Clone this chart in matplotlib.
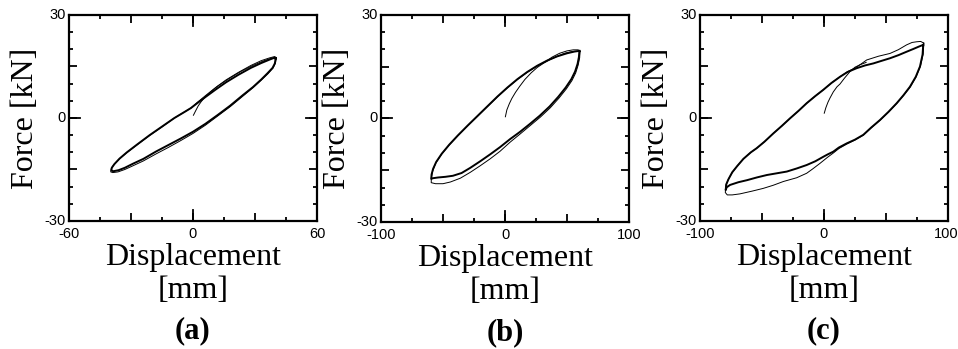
import matplotlib
matplotlib.use('Agg')
import matplotlib.pyplot as plt
from matplotlib.ticker import MultipleLocator

# ---- (a) 40 mm amplitude ----
a_init_x = [0.2, 1.2, 2.5, 4.0, 6.0, 8.5, 12, 17, 23, 29, 34, 38, 40]
a_init_y = [0.8, 2.0, 3.5, 4.8, 6.2, 7.6, 9.3, 11.3, 13.5, 15.3, 16.6, 17.4, 17.6]

# cycle 1: unloading branch (peak -> negative peak) then reloading branch
a_c1_down_x = [40.0, 39.6, 38.5, 36, 33, 29, 24, 18, 12, 6, 0, -6, -12, -18, -24, -29, -33, -36, -38.5, -39.5]
a_c1_down_y = [17.3, 15.9, 14.6, 13.0, 11.2, 9.0, 6.6, 3.6, 0.9, -1.7, -4.0, -6.0, -7.9, -9.8, -11.9, -13.3, -14.5, -15.2, -15.5, -15.3]
a_c1_up_x = [-39.5, -39.3, -38, -35.5, -32, -27, -21, -15, -9, -4, -1, 2, 6, 11, 16, 22, 28, 33, 37, 39.2, 40.0]
a_c1_up_y = [-15.3, -14.5, -13.4, -11.8, -10.0, -7.7, -5.0, -2.5, 0.0, 1.8, 2.9, 4.3, 6.1, 8.3, 10.4, 12.6, 14.6, 16.0, 17.0, 17.5, 17.3]

# cycle 2
a_c2_down_x = [40.3, 39.9, 38.8, 36.3, 33, 29, 24, 18, 12, 6, 0, -6, -12, -18, -24, -29, -33, -36.3, -38.8, -39.8]
a_c2_down_y = [17.6, 16.0, 14.6, 12.9, 11.0, 8.8, 6.3, 3.3, 0.6, -2.1, -4.5, -6.6, -8.6, -10.5, -12.5, -13.9, -15.0, -15.7, -15.9, -15.7]
a_c2_up_x = [-39.8, -39.6, -38.3, -35.8, -32, -27, -21, -15, -9, -4, -1, 2, 6, 11, 16, 22, 28, 33, 37, 39.5, 40.3]
a_c2_up_y = [-15.7, -14.8, -13.6, -12.0, -10.1, -7.8, -5.1, -2.6, 0.0, 1.8, 2.9, 4.5, 6.5, 8.9, 11.1, 13.3, 15.3, 16.7, 17.5, 17.9, 17.6]

# ---- (b) 60 mm amplitude ----
b_init_x = [0.3, 1.5, 3.5, 5.5, 8.5, 12, 16, 21, 26, 31, 36, 42, 48, 54, 59.5]
b_init_y = [0.5, 2.5, 4.3, 5.8, 7.6, 9.4, 11.3, 13.2, 14.8, 16.0, 17.0, 18.0, 18.9, 19.4, 19.5]

b_c1_down_x = [60, 59.6, 58.5, 56.5, 53.5, 49, 43, 36, 28, 20, 12, 4, -4, -12, -20, -28, -35, -42, -48, -54, -58, -59.5]
b_c1_down_y = [19.6, 17.8, 15.8, 13.6, 11.4, 9.0, 6.3, 3.5, 0.8, -1.6, -3.9, -6.0, -8.3, -10.4, -12.4, -14.3, -15.8, -16.6, -16.9, -17.1, -17.3, -17.5]
b_c1_up_x = [-59.5, -59.2, -58, -55.5, -51, -45, -38, -30, -22, -14, -6, 2, 10, 18, 26, 34, 42, 50, 56, 60]
b_c1_up_y = [-17.5, -16.2, -14.6, -12.6, -10.2, -7.6, -4.9, -2.0, 0.8, 3.6, 6.4, 9.0, 11.4, 13.5, 15.3, 16.8, 18.0, 18.9, 19.4, 19.6]

b_c2_down_x = [60.5, 60.2, 59, 57, 54, 49.5, 43.5, 36.5, 28.5, 20.5, 12.5, 4, -4, -12, -20, -28, -36, -44, -50, -56, -59.5]
b_c2_down_y = [19.4, 17.6, 15.5, 13.2, 11.0, 8.6, 5.9, 3.1, 0.4, -2.0, -4.4, -6.9, -9.5, -11.7, -13.7, -15.6, -17.3, -18.4, -18.9, -18.9, -18.6]
b_c2_up_x = [-59.5, -59.4, -58.3, -55.8, -51, -45, -38, -30, -22, -14, -6, 2, 10, 18, 26, 34, 38, 44, 50, 55, 59, 60.5]
b_c2_up_y = [-18.6, -17.2, -15.2, -12.9, -10.3, -7.7, -5.0, -2.1, 0.7, 3.5, 6.3, 8.9, 11.3, 13.4, 15.2, 16.8, 17.8, 18.9, 19.6, 19.9, 19.9, 19.4]

# ---- (c) 80 mm amplitude ----
c_init_x = [0.2, 1.5, 3.2, 4.8, 7.5, 10.5, 12.9, 16.5, 20.9, 25, 29, 34]
c_init_y = [1.4, 3.0, 4.6, 5.8, 7.6, 9.1, 9.9, 11.6, 13.5, 14.8, 15.5, 16.2]

c_c1_down_x = [80, 79.5, 77.4, 74, 69.3, 64, 58.6, 52, 45.1, 38, 31.7, 25, 18.3, 12, 7.5, 3, -0.6, -7, -14, -22,
               -30, -38, -46, -54, -62, -69, -75.8, -78.5, -79.3]
c_c1_down_y = [21.3, 18.5, 15.0, 12.0, 9.1, 6.6, 4.3, 1.8, -0.6, -2.8, -4.9, -6.3, -7.4, -8.6, -9.8, -10.6, -11.3, -12.6, -13.7, -14.7,
               -15.6, -16.1, -16.6, -17.3, -18.1, -18.7, -19.5, -20.2, -21.0]
c_c1_up_x = [-79.3, -78.8, -77, -74, -70, -65, -59, -54.3, -48, -40.9, -34, -27.4, -20.5, -14, -7, -0.6, 6, 12.9, 19, 26.3,
             33, 39.8, 46, 53.2, 60, 66.6, 72, 76.5, 80]
c_c1_up_y = [-21.0, -19.3, -17.8, -15.8, -14.0, -11.9, -10.0, -8.8, -6.9, -4.5, -2.3, -0.1, 2.1, 4.3, 6.4, 8.2, 10.2, 12.0, 13.4, 14.5,
             15.3, 15.9, 16.6, 17.4, 18.3, 19.3, 20.1, 20.8, 21.3]

c_c2_down_x = [80.5, 80, 77.8, 74.3, 69.5, 64, 58.6, 52, 45.1, 38, 31.7, 25, 18.3, 12, 7.5, 3, -3.2, -9, -14, -22,
               -32.8, -41, -49, -58, -67.8, -74, -78, -79.6]
c_c2_down_y = [21.8, 18.7, 15.1, 12.0, 9.0, 6.5, 4.2, 1.7, -0.7, -2.9, -5.0, -6.4, -7.6, -8.9, -10.2, -11.4, -13.2, -14.8, -16.1, -17.4,
               -18.5, -19.6, -20.5, -21.3, -22.1, -22.4, -22.4, -21.7]
c_c2_up_x = [-79.6, -79.1, -77.2, -74, -70, -65, -59, -54.3, -48, -40.9, -34, -27.4, -20.5, -14, -7, -0.6, 6, 12.9, 19, 26.3,
             34.4, 44, 53.2, 60, 66.6, 71, 74.7, 78, 80.5]
c_c2_up_y = [-21.7, -19.6, -17.9, -15.9, -14.0, -11.9, -10.0, -8.8, -6.9, -4.5, -2.3, -0.1, 2.1, 4.3, 6.4, 8.2, 10.2, 12.0, 13.5, 14.8,
             16.9, 18.0, 18.8, 19.9, 21.3, 22.0, 22.2, 22.3, 21.8]

panels = ['(a)', '(b)', '(c)']
x_limits = [60, 100, 100]
x_major = [30, 50, 50]
x_minor = [15, 25, 25]


def draw_panel(ax, init, cycles, xlim, xmaj, xmin, tag, last=False):
    # hysteresis loops, first cycle drawn heavier
    for i, (dx, dy, ux, uy) in enumerate(cycles):
        lw = 1.4 if i == 0 else 0.7
        ax.plot(list(dx) + list(ux), list(dy) + list(uy), color='black', lw=lw)
    ax.plot(init[0], init[1], color='black', lw=0.7)

    ax.set_xlim(-xlim, xlim)
    ax.set_ylim(-30, 30)
    ax.xaxis.set_major_locator(MultipleLocator(xmaj))
    ax.xaxis.set_minor_locator(MultipleLocator(xmin))
    ax.yaxis.set_major_locator(MultipleLocator(15))
    ax.yaxis.set_minor_locator(MultipleLocator(5))
    ax.set_xticklabels([])
    ax.set_yticklabels([])
    ax.tick_params(which='both', direction='in', top=True, right=True, width=1.3)
    ax.tick_params(which='major', length=6)
    ax.tick_params(which='minor', length=3)

    # labelled ticks are longer
    tl = 0.055
    ax.axvline(0, ymin=0, ymax=tl, color='black', lw=1.3)
    ax.axvline(0, ymin=1 - tl, ymax=1, color='black', lw=1.3)
    tlx = tl * 206 / 248
    ax.axhline(0, xmin=0, xmax=tlx, color='black', lw=1.3)
    ax.axhline(0, xmin=1 - tlx, xmax=1, color='black', lw=1.3)

    for s in ax.spines.values():
        s.set_linewidth(1.6)

    tick_font = dict(family='Liberation Sans', fontsize=10.5)
    for v in [-xlim, 0, xlim]:
        xpos = v
        if last and v == xlim:
            xpos = v - xlim * 0.018  # keep the end label inside the figure
        ax.text(xpos, -30 - 3.9, '%d' % v, ha='center', va='center', **tick_font)
    for v in [-30, 0, 30]:
        ax.text(-xlim - xlim * 0.025, v, '%d' % v, ha='right', va='center', **tick_font)

    serif = dict(family='Liberation Serif', fontsize=23, transform=ax.transAxes, ha='center', va='center')
    ax.text(-0.175, 0.5, 'Force [kN]', rotation=90, **serif)
    ax.text(0.5, -0.175, 'Displacement', **serif)
    ax.text(0.5, -0.335, '[mm]', **serif)
    ax.text(0.5, -0.535, tag, family='Liberation Serif', fontsize=22, fontweight='bold',
            transform=ax.transAxes, ha='center', va='center')


def main():
    fig = plt.figure(figsize=(9.58, 3.49), dpi=100)
    boxes = [[69 / 958, 128 / 349, 248 / 958, 206 / 349],
             [381 / 958, 127 / 349, 248 / 958, 207 / 349],
             [700 / 958, 128 / 349, 248 / 958, 206 / 349]]

    data = [
        ((a_init_x, a_init_y), [(a_c1_down_x, a_c1_down_y, a_c1_up_x, a_c1_up_y),
                                (a_c2_down_x, a_c2_down_y, a_c2_up_x, a_c2_up_y)]),
        ((b_init_x, b_init_y), [(b_c1_down_x, b_c1_down_y, b_c1_up_x, b_c1_up_y),
                                (b_c2_down_x, b_c2_down_y, b_c2_up_x, b_c2_up_y)]),
        ((c_init_x, c_init_y), [(c_c1_down_x, c_c1_down_y, c_c1_up_x, c_c1_up_y),
                                (c_c2_down_x, c_c2_down_y, c_c2_up_x, c_c2_up_y)]),
    ]

    for k, (box, (init, cycles), xl, xmaj, xmin, tag) in enumerate(
            zip(boxes, data, x_limits, x_major, x_minor, panels)):
        ax = fig.add_axes(box)
        draw_panel(ax, init, cycles, xl, xmaj, xmin, tag, last=(k == 2))

    fig.savefig('out.png', dpi=100)


if __name__ == '__main__':
    main()
